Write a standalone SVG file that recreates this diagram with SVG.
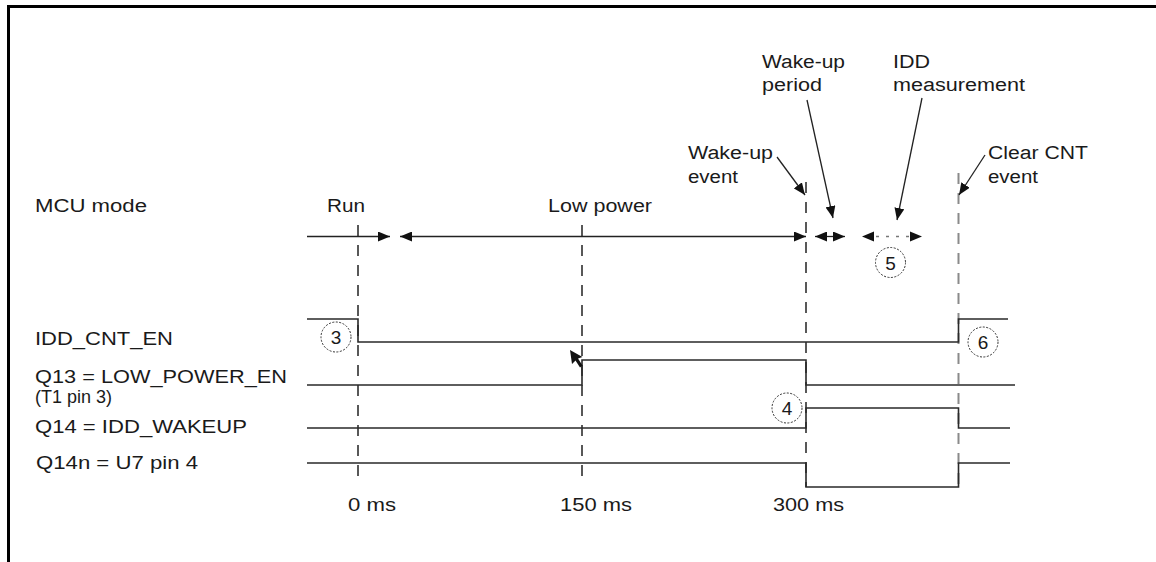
<svg xmlns="http://www.w3.org/2000/svg" width="1156" height="562" viewBox="0 0 1156 562">
<style>
.t{font-family:"Liberation Sans",Arial,Helvetica,sans-serif;font-size:18px;fill:#1a1a1a}
.sig{fill:none;stroke:#2a2a2a;stroke-width:1.6}
.dash{stroke:#222;stroke-width:1.5;stroke-dasharray:11 9;fill:none}
.dashg{stroke:#8a8a8a;stroke-width:2;stroke-dasharray:11 9;fill:none}
.lead{stroke:#222;stroke-width:1.3;fill:none}
.circ{fill:none;stroke:#333;stroke-width:1;stroke-dasharray:2 1.5}
.num{text-anchor:middle;font-size:19px}
.head{fill:#111}
</style>
<defs>
<marker id="ah" viewBox="0 0 12 10" refX="12" refY="5" markerWidth="12" markerHeight="10" markerUnits="userSpaceOnUse" orient="auto-start-reverse"><path d="M0,0 L12,5 L0,10 z" fill="#111"/></marker>
</defs>
<rect width="1156" height="562" fill="#fff"/>
<path d="M8.5,562 V6.5 H1156" stroke="#000" stroke-width="3" fill="none"/>

<g id="labels">
<text class="t" x="35" y="212" textLength="112" lengthAdjust="spacingAndGlyphs">MCU mode</text>
<text class="t" x="35" y="345" textLength="138" lengthAdjust="spacingAndGlyphs">IDD_CNT_EN</text>
<text class="t" x="35" y="383" textLength="252" lengthAdjust="spacingAndGlyphs">Q13 = LOW_POWER_EN</text>
<text class="t" x="35" y="403" textLength="77" lengthAdjust="spacingAndGlyphs">(T1 pin 3)</text>
<text class="t" x="35" y="433" textLength="212" lengthAdjust="spacingAndGlyphs">Q14 = IDD_WAKEUP</text>
<text class="t" x="36" y="469" textLength="162" lengthAdjust="spacingAndGlyphs">Q14n = U7 pin 4</text>
</g>

<g id="modes">
<text class="t" x="327" y="212" textLength="38" lengthAdjust="spacingAndGlyphs">Run</text>
<text class="t" x="548" y="212" textLength="104" lengthAdjust="spacingAndGlyphs">Low power</text>
</g>

<g id="annotations">
<text class="t" x="762" y="68" textLength="83" lengthAdjust="spacingAndGlyphs">Wake-up</text>
<text class="t" x="762" y="91" textLength="60" lengthAdjust="spacingAndGlyphs">period</text>
<text class="t" x="893" y="68" textLength="37" lengthAdjust="spacingAndGlyphs">IDD</text>
<text class="t" x="893" y="91" textLength="132" lengthAdjust="spacingAndGlyphs">measurement</text>
<text class="t" x="688" y="159" textLength="85" lengthAdjust="spacingAndGlyphs">Wake-up</text>
<text class="t" x="688" y="183" textLength="50" lengthAdjust="spacingAndGlyphs">event</text>
<text class="t" x="988" y="159" textLength="100" lengthAdjust="spacingAndGlyphs">Clear CNT</text>
<text class="t" x="988" y="183" textLength="50" lengthAdjust="spacingAndGlyphs">event</text>
</g>

<g id="time-axis">
<text class="t" x="348" y="511" textLength="48" lengthAdjust="spacingAndGlyphs">0 ms</text>
<text class="t" x="560" y="511" textLength="72" lengthAdjust="spacingAndGlyphs">150 ms</text>
<text class="t" x="773" y="511" textLength="71" lengthAdjust="spacingAndGlyphs">300 ms</text>
</g>

<g id="markers">
<line class="dash" x1="358" y1="225" x2="358" y2="483"/>
<line class="dash" x1="582" y1="225" x2="582" y2="483"/>
<line class="dash" x1="806" y1="182" x2="806" y2="487"/>
<line class="dashg" x1="958.5" y1="173" x2="958.5" y2="487"/>
</g>

<g id="signals">
<path class="sig" d="M307,319 H358 V342 H958.5 V319 H1008"/>
<path class="sig" d="M307,385 H582 V360 H806 V385 H1015"/>
<path class="sig" d="M307,428 H806 V408 H958.5 V428 H1010"/>
<path class="sig" d="M307,463 H806 V487 H958.5 V463 H1010"/>
</g>

<g id="connectors">
<line class="lead" x1="307" y1="236.5" x2="390" y2="236.5" marker-end="url(#ah)"/>
<line class="lead" x1="400" y1="236.5" x2="806" y2="236.5" marker-start="url(#ah)" marker-end="url(#ah)"/>
<line class="lead" x1="815" y1="236.5" x2="845" y2="236.5" marker-start="url(#ah)" marker-end="url(#ah)"/>
<path class="head" d="M862,236.5 L874,231.5 L874,241.5 z"/>
<path class="head" d="M922,236.5 L910,231.5 L910,241.5 z"/>
<line x1="876" y1="236.5" x2="909" y2="236.5" stroke="#777" stroke-width="1.3" stroke-dasharray="3 7"/>
<line class="lead" x1="777" y1="157" x2="805" y2="195" marker-end="url(#ah)"/>
<line class="lead" x1="807" y1="100" x2="833" y2="218" marker-end="url(#ah)"/>
<line class="lead" x1="922" y1="98" x2="897" y2="220" marker-end="url(#ah)"/>
<line class="lead" x1="985" y1="155" x2="959" y2="195" marker-end="url(#ah)"/>
<path class="head" d="M570,350 L572,364 L575.5,360.5 L580,367.5 L582.5,365.5 L578,358.5 L582.5,357 Z"/>
</g>

<g id="step3"><circle class="circ" cx="336" cy="337" r="15"/><text class="t num" x="336" y="344">3</text></g>
<g id="step4"><circle class="circ" cx="787" cy="408" r="15"/><text class="t num" x="787" y="415">4</text></g>
<g id="step5"><circle class="circ" cx="890.5" cy="262.5" r="15"/><text class="t num" x="890.5" y="269.5">5</text></g>
<g id="step6"><circle class="circ" cx="983" cy="342" r="15"/><text class="t num" x="983" y="349">6</text></g>
</svg>
